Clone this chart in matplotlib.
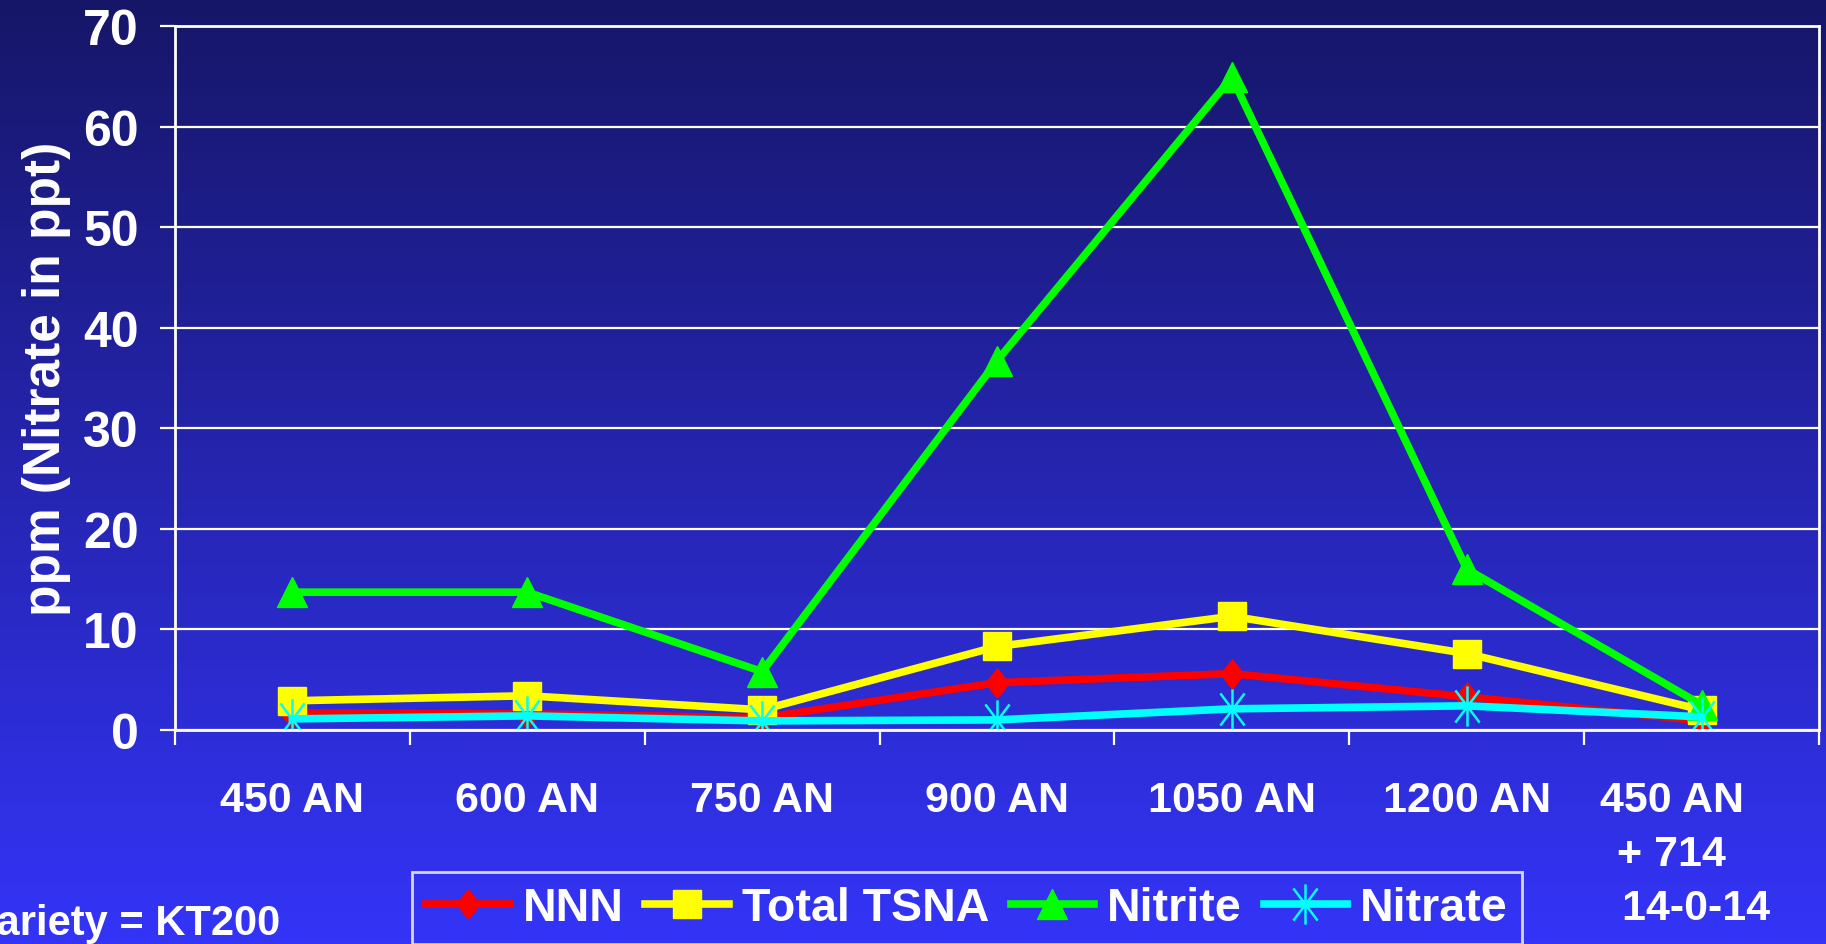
import matplotlib.pyplot as plt
import matplotlib.path as mpath
import matplotlib.transforms as mtransforms
import numpy as np

plt.rcParams['font.family'] = ['Liberation Sans', 'DejaVu Sans']
plt.rcParams['font.weight'] = 'bold'
plt.rcParams['axes.labelweight'] = 'bold'

categories = ["450 AN", "600 AN", "750 AN", "900 AN", "1050 AN", "1200 AN",
              "450 AN\n+ 714\n    14-0-14"]
nnn = [1.7, 1.6, 1.2, 4.7, 5.6, 3.3, 0.9]
total_tsna = [2.9, 3.4, 2.0, 8.3, 11.3, 7.6, 2.0]
nitrite = [13.7, 13.7, 5.8, 36.7, 64.9, 16.0, 2.5]
nitrate = [1.1, 1.4, 0.9, 1.0, 2.1, 2.4, 1.3]

# asterisk marker: vertical arm plus a steep X
ang = np.deg2rad(53)
star = mpath.Path(
    [(0, -1), (0, 1),
     (-np.cos(ang), -np.sin(ang)), (np.cos(ang), np.sin(ang)),
     (-np.cos(ang), np.sin(ang)), (np.cos(ang), -np.sin(ang))],
    [mpath.Path.MOVETO, mpath.Path.LINETO] * 3)

# slightly narrow diamond
diamond = mpath.Path([(0, 1), (0.8, 0), (0, -1), (-0.8, 0), (0, 1)],
                     [mpath.Path.MOVETO] + [mpath.Path.LINETO] * 3 +
                     [mpath.Path.CLOSEPOLY])

fig = plt.figure(figsize=(18.26, 9.45), dpi=100)

# background gradient
bg = fig.add_axes([0, 0, 1, 1], zorder=-10)
top = np.array([22, 22, 104]) / 255
bot = np.array([52, 52, 248]) / 255
t = np.linspace(0, 1, 256)[:, None]
grad = (top * (1 - t) + bot * t)[:, None, :]
bg.imshow(grad, aspect='auto', extent=[0, 1, 0, 1])
bg.axis('off')

ax = fig.add_axes([0.0958, 0.2265, 0.9004, 0.745])
ax.patch.set_alpha(0)

x = np.arange(len(categories))
ax.plot(x, nnn, color='#ff0000', lw=5.5, marker=diamond, ms=21, label='NNN')
ax.plot(x, total_tsna, color='#ffff00', lw=5.5, marker='s', ms=20, label='Total TSNA')
ax.plot(x, nitrite, color='#00ff00', lw=5.5, marker='^', ms=21, label='Nitrite')
ax.plot(x, nitrate, color='#00ffff', lw=5.5, marker=star, ms=29,
        mew=1.8, mec='#00ffff', label='Nitrate')

ax.set_xlim(-0.5, len(categories) - 0.5)
ax.set_ylim(0, 70)
ax.set_yticks(np.arange(0, 71, 10))
ax.yaxis.grid(True, color='white', lw=1.6)
ax.set_axisbelow(True)

ax.set_xticks(x)
ax.set_xticklabels(categories, fontsize=31, color='white', linespacing=1.45,
                   va='top')
ax.set_xticks(np.arange(-0.5, len(categories), 1), minor=True)
ax.tick_params(axis='x', which='major', length=0, pad=36)
ax.tick_params(axis='x', which='minor', length=11, width=1.6, color='white')
ax.tick_params(axis='y', length=11, width=1.6, color='white', labelsize=36,
               labelcolor='white', pad=15)

# last label sits a bit left of its category in the original
last = ax.get_xticklabels()[-1]
last.set_transform(last.get_transform() +
                   mtransforms.ScaledTranslation(-0.3, 0, fig.dpi_scale_trans))

for s in ax.spines.values():
    s.set_color('white')
    s.set_linewidth(2)

ax.set_ylabel("ppm (Nitrate in ppt)", fontsize=37, color='white', labelpad=9)

leg = ax.legend(loc='upper left', bbox_to_anchor=(0.1442, -0.2017), ncol=4,
                fontsize=33.5, frameon=True, fancybox=False, handlelength=1.8,
                handletextpad=0.28, columnspacing=0.46, borderpad=0.3,
                borderaxespad=0)
leg.get_frame().set_facecolor('none')
leg.get_frame().set_edgecolor('white')
leg.get_frame().set_linewidth(2)
for txt in leg.get_texts():
    txt.set_color('white')

fig.text(280 / 1826, 10 / 945, "Variety = KT200", fontsize=30, color='white',
         ha='right', va='baseline')

fig.savefig("out.png", dpi=100)
